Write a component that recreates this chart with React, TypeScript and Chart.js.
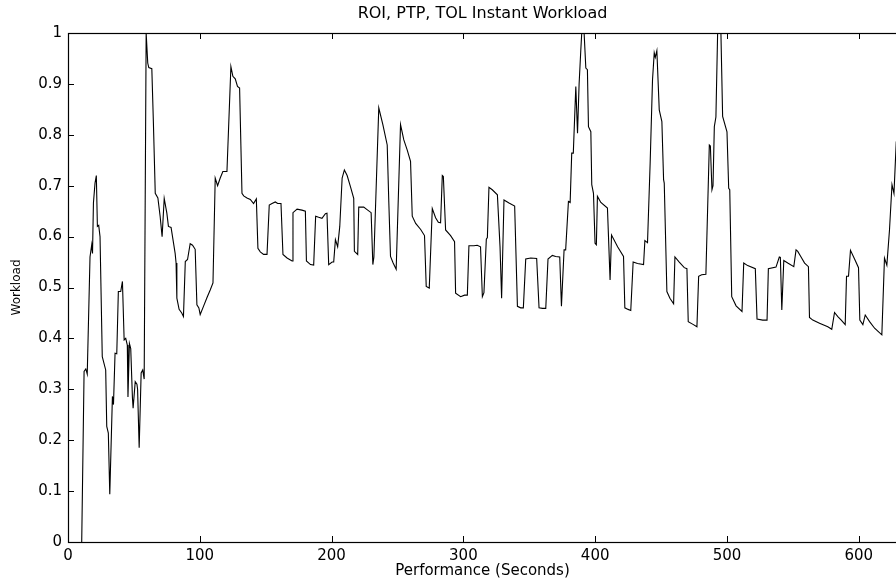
import React, { useEffect, useRef } from "react";
import { Chart, registerables } from "chart.js";

Chart.register(...registerables);

const chartTitle = "ROI, PTP, TOL Instant Workload";
const xAxisLabel = "Performance (Seconds)";
const yAxisLabel = "Workload";

const xTickValues = [0, 100, 200, 300, 400, 500, 600];
const yTickValues = [0, 0.1, 0.2, 0.3, 0.4, 0.5, 0.6, 0.7, 0.8, 0.9, 1];

const timeSeconds = [
  10.4, 12.2, 13.5, 14.6, 16.7, 18.0, 18.6, 19.3, 20.5, 21.5, 22.3, 23.3, 24.3, 26.0, 28.6, 29.4, 30.6, 31.7,
  33.7, 34.5, 35.7, 37.0, 38.2, 40.0, 41.3, 42.6, 43.8, 45.0, 45.5, 46.6, 47.6, 48.9, 49.4, 51.0, 52.3, 52.8,
  54.0, 55.5, 56.7, 57.8, 59.3, 60.5, 61.3, 63.6, 64.8, 66.2, 68.2, 69.9, 71.4, 73.0, 75.0, 76.2, 78.2, 81.3,
  82.0, 82.6, 84.3, 86.3, 87.6, 89.0, 90.7, 92.7, 94.5, 96.5, 97.8, 99.3, 100.3, 102.8, 105.4, 107.9, 110.0,
  111.7, 113.5, 115.5, 117.5, 120.6, 123.6, 125.1, 126.9, 128.6, 130.2, 132.0, 133.3, 135.8, 138.3, 140.8,
  142.9, 144.1, 145.9, 148.4, 151.0, 152.7, 154.8, 157.3, 159.1, 161.6, 163.1, 166.2, 170.0, 170.7, 173.8,
  177.5, 180.1, 180.9, 184.0, 186.4, 187.9, 190.2, 192.7, 195.3, 196.5, 197.8, 200.4, 201.6, 202.9, 204.6,
  206.2, 208.0, 209.7, 211.8, 214.3, 216.8, 217.3, 219.8, 220.6, 224.4, 226.9, 230.0, 231.3, 232.1, 235.8,
  238.9, 242.2, 243.4, 244.7, 246.7, 249.0, 252.3, 254.8, 257.4, 259.9, 261.2, 263.8, 267.6, 270.5, 271.8,
  274.1, 276.4, 278.9, 281.0, 282.7, 284.0, 284.8, 286.5, 290.3, 293.3, 294.1, 297.9, 300.9, 303.0, 304.2,
  308.0, 310.5, 313.0, 314.4, 315.6, 317.4, 318.2, 319.4, 321.9, 325.8, 327.8, 329.0, 330.8, 334.6, 338.9,
  341.0, 343.5, 345.5, 347.3, 351.1, 355.6, 357.4, 360.0, 362.5, 364.2, 367.5, 370.0, 373.1, 374.4, 376.4,
  377.6, 379.7, 381.0, 382.2, 383.4, 385.3, 386.6, 387.8, 389.1, 389.8, 391.6, 392.9, 394.1, 394.9, 396.7,
  397.4, 398.7, 399.9, 400.9, 401.7, 404.3, 409.3, 411.3, 412.4, 417.0, 421.5, 422.5, 425.0, 427.0, 428.8,
  432.1, 436.7, 437.7, 439.7, 441.7, 443.5, 444.8, 445.6, 446.8, 448.6, 450.6, 451.9, 452.4, 454.4, 456.7,
  459.5, 460.5, 463.8, 467.6, 469.6, 470.6, 473.9, 477.2, 478.5, 480.8, 484.0, 486.6, 487.4, 488.6, 489.4,
  490.4, 491.6, 492.9, 495.4, 496.7, 500.0, 501.3, 502.1, 503.6, 506.9, 511.4, 512.7, 515.7, 521.5, 522.8,
  527.1, 530.4, 531.4, 537.2, 539.7, 540.5, 541.6, 543.1, 546.1, 550.7, 552.4, 553.7, 556.2, 558.9, 561.8,
  562.6, 565.1, 570.2, 576.5, 579.5, 581.6, 584.1, 586.7, 589.7, 590.7, 592.2, 593.7, 596.8, 599.8, 600.8,
  603.1, 604.9, 608.2, 612.0, 617.5, 619.5, 621.3, 623.3, 625.2, 626.7, 628.4, 629.5,
];

const workload = [
  0, 0.335, 0.34, 0.33, 0.56, 0.584, 0.567, 0.666, 0.705, 0.72, 0.62, 0.622, 0.6, 0.364, 0.338, 0.227, 0.214, 0.094,
  0.286, 0.27, 0.371, 0.37, 0.492, 0.492, 0.512, 0.397, 0.4, 0.387, 0.285, 0.39, 0.38, 0.283, 0.263, 0.315, 0.31, 0.3,
  0.185, 0.332, 0.338, 0.32, 1.0, 0.941, 0.932, 0.93, 0.823, 0.685, 0.676, 0.64, 0.6, 0.675, 0.646, 0.62, 0.618, 0.567,
  0.548, 0.479, 0.457, 0.45, 0.443, 0.551, 0.555, 0.586, 0.583, 0.575, 0.466, 0.46, 0.447, 0.463, 0.48, 0.495, 0.509,
  0.715, 0.7, 0.715, 0.728, 0.728, 0.934, 0.915, 0.91, 0.895, 0.892, 0.685, 0.68, 0.676, 0.673, 0.665,
  0.674, 0.577, 0.57, 0.565, 0.565, 0.662, 0.665, 0.668, 0.665, 0.665, 0.565, 0.558, 0.552, 0.647, 0.654,
  0.652, 0.65, 0.552, 0.545, 0.544, 0.64, 0.638, 0.636, 0.645, 0.646, 0.545, 0.55, 0.55, 0.594, 0.58,
  0.62, 0.715, 0.731, 0.72, 0.698, 0.675, 0.571, 0.565, 0.658, 0.658, 0.653, 0.647, 0.545, 0.56, 0.853,
  0.82, 0.78, 0.669, 0.561, 0.548, 0.536, 0.82, 0.79, 0.77, 0.748, 0.64, 0.626, 0.614, 0.602, 0.502,
  0.499, 0.655, 0.637, 0.628, 0.627, 0.72, 0.718, 0.613, 0.602, 0.59, 0.489, 0.482, 0.485, 0.485, 0.582,
  0.582, 0.583, 0.58, 0.482, 0.49, 0.595, 0.598, 0.697, 0.692, 0.682, 0.58, 0.479, 0.672, 0.666, 0.66,
  0.463, 0.46, 0.46, 0.556, 0.558, 0.557, 0.46, 0.459, 0.459, 0.556, 0.563, 0.561, 0.56, 0.463, 0.574,
  0.574, 0.669, 0.667, 0.764, 0.764, 0.895, 0.803, 0.9, 0.967, 1.0, 1.0, 0.931, 0.928, 0.816, 0.806,
  0.702, 0.685, 0.587, 0.584, 0.679, 0.667, 0.656, 0.515, 0.603, 0.58, 0.561, 0.46, 0.457, 0.455, 0.55,
  0.547, 0.545, 0.592, 0.588, 0.744, 0.908, 0.961, 0.952, 0.965, 0.849, 0.826, 0.712, 0.705, 0.492, 0.479,
  0.468, 0.56, 0.55, 0.539, 0.537, 0.433, 0.428, 0.423, 0.522, 0.525, 0.526, 0.78, 0.778, 0.692, 0.7,
  0.816, 0.835, 1.0, 1.0, 0.836, 0.806, 0.695, 0.692, 0.482, 0.464, 0.453, 0.548, 0.543, 0.537, 0.438,
  0.436, 0.436, 0.537, 0.54, 0.56, 0.559, 0.456, 0.553, 0.548, 0.541, 0.574, 0.571, 0.56, 0.548, 0.541,
  0.441, 0.436, 0.43, 0.423, 0.418, 0.451, 0.443, 0.436, 0.427, 0.522, 0.522, 0.573, 0.556, 0.539, 0.436,
  0.427, 0.446, 0.433, 0.42, 0.407, 0.558, 0.544, 0.613, 0.702, 0.685, 0.784, 0.78,
];

const FONT = "'DejaVu Sans', 'Liberation Sans', sans-serif";

const frameAndTicks = {
  id: "frameAndTicks",
  afterDatasetsDraw(chart: any) {
    const { ctx, chartArea } = chart;
    const { left, right, top, bottom } = chartArea;
    const xs = chart.scales.x;
    const ys = chart.scales.y;
    const len = 6;
    ctx.save();
    ctx.strokeStyle = "#000";
    ctx.lineWidth = 1;
    ctx.beginPath();
    xTickValues.forEach((v) => {
      const px = Math.round(xs.getPixelForValue(v)) + 0.5;
      ctx.moveTo(px, bottom);
      ctx.lineTo(px, bottom - len);
      ctx.moveTo(px, top);
      ctx.lineTo(px, top + len);
    });
    yTickValues.forEach((v) => {
      const py = Math.round(ys.getPixelForValue(v)) + 0.5;
      ctx.moveTo(left, py);
      ctx.lineTo(left + len, py);
    });
    ctx.stroke();
    ctx.lineWidth = 1.2;
    ctx.strokeRect(Math.round(left) + 0.5, Math.round(top) + 0.5, Math.round(right - left) + 4, Math.round(bottom - top));
    ctx.restore();
  },
};

export default function App() {
  const canvasRef = useRef<HTMLCanvasElement | null>(null);

  useEffect(() => {
    const canvas = canvasRef.current;
    if (!canvas) return;
    const points = timeSeconds.map((t, i) => ({ x: t, y: workload[i] }));
    const chart = new Chart(canvas, {
      type: "line",
      data: {
        datasets: [
          {
            data: points,
            borderColor: "#000",
            borderWidth: 1.1,
            pointRadius: 0,
            tension: 0,
            fill: false,
          },
        ],
      },
      options: {
        responsive: false,
        devicePixelRatio: 1,
        animation: false,
        events: [],
        layout: { padding: 0 },
        plugins: {
          legend: { display: false },
          tooltip: { enabled: false },
          title: {
            display: true,
            text: chartTitle,
            fullSize: false,
            color: "#000",
            font: { family: FONT, size: 16, weight: "normal", lineHeight: 1.2 },
            padding: { top: 4, bottom: 9.8 },
          },
        },
        scales: {
          x: {
            type: "linear",
            min: 0,
            max: 629,
            grid: { display: false, drawTicks: false },
            border: { display: false },
            afterBuildTicks: (scale: any) => {
              scale.ticks = xTickValues.map((v) => ({ value: v }));
            },
            afterFit: (scale: any) => {
              scale.height = 38;
            },
            ticks: {
              color: "#000",
              padding: 5,
              maxRotation: 0,
              autoSkip: false,
              font: { family: FONT, size: 15 },
              callback: (v: any) => String(v),
            },
            title: {
              display: true,
              text: xAxisLabel,
              color: "#000",
              font: { family: FONT, size: 15, lineHeight: 1.2 },
              padding: { top: 0, bottom: 0 },
            },
          },
          y: {
            type: "linear",
            min: 0,
            max: 1,
            grid: { display: false, drawTicks: false },
            border: { display: false },
            afterBuildTicks: (scale: any) => {
              scale.ticks = yTickValues.map((v) => ({ value: v }));
            },
            afterFit: (scale: any) => {
              scale.width = 68;
            },
            ticks: {
              color: "#000",
              padding: 6,
              autoSkip: false,
              font: { family: FONT, size: 15 },
              callback: (v: any) => String(Number(Number(v).toFixed(1))),
            },
            title: {
              display: true,
              text: yAxisLabel,
              color: "#000",
              font: { family: FONT, size: 12, lineHeight: 1.2 },
              padding: { top: 10, bottom: 0 },
            },
          },
        },
      },
      plugins: [frameAndTicks],
    });
    return () => chart.destroy();
  }, []);

  return (
    <div
      style={{
        position: "absolute",
        left: 0,
        top: 0,
        width: 896,
        height: 580,
        overflow: "hidden",
        background: "#fff",
      }}
    >
      <canvas ref={canvasRef} width={897} height={580} style={{ display: "block" }} />
    </div>
  );
}
